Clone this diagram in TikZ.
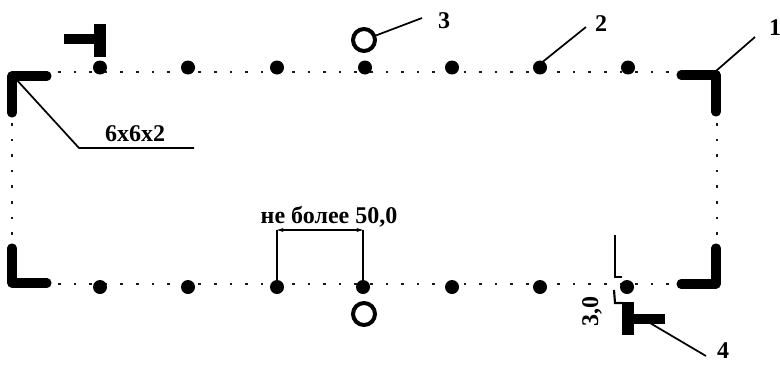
\documentclass[tikz,border=0pt]{standalone}
\usepackage{fontspec}
\setmainfont{Liberation Serif}
\usetikzlibrary{arrows.meta}
\tikzset{
  x=0.75pt,y=-0.75pt,
  bigdot/.style={circle,fill=black,inner sep=0pt,minimum size=10.5pt},
  dotline/.style={line width=2pt,dash pattern=on 2pt off 9.7pt,black!90},
  corner/.style={line width=6.8pt,line cap=round,line join=round},
  tbar/.style={line width=9pt},
  tstem/.style={line width=7.5pt},
  lead/.style={line width=1.3pt},
  ring/.style={circle,draw,line width=3pt,inner sep=0pt,minimum size=16.5pt},
  lab/.style={font=\bfseries\fontsize{18pt}{20pt}\selectfont,inner sep=0pt},
  dim/.style={line width=1.1pt}
}
\begin{document}
\begin{tikzpicture}
\useasboundingbox (0,0) rectangle (780,364);
% dotted outline
\draw[dotline] (58,72) -- (680,72);
\draw[dotline] (58,284) -- (680,284);
\draw[dotline] (12,123) -- (12,245);
\draw[dotline] (717,123) -- (717,245);
% corners
\draw[corner] (47,76) -- (12,76) -- (12,113);
\draw[corner] (681,75) -- (716,75) -- (716,112);
\draw[corner] (12,248) -- (12,283) -- (47,283);
\draw[corner] (681,284) -- (716,284) -- (716,248);
% dots
\foreach \n/\x in {a/100,b/188,c/277,d/365,e/452,f/540,g/628}
  \node[bigdot] (t\n) at (\x,67.5) {};
\foreach \n/\x in {a/100,b/188,c/277,d/363,e/452,f/540,g/627}
  \node[bigdot] (b\n) at (\x,287) {};
% T marks
\draw[tstem] (64,39) -- (100,39);
\draw[tbar] (100,24) -- (100,57);
\draw[tstem] (628,319) -- (665,319);
\draw[tbar] (628,302) -- (628,335);
% rings
\node[ring] (r3) at (364,40) {};
\node[ring] (r5) at (364,314) {};
% labels
\node[lab] (l1) at (775,28) {1};
\node[lab] (l2) at (601,24) {2};
\node[lab] (l3) at (444,21) {3};
\node[lab] (l4) at (723,351) {4};
\node[lab] (size) at (135,134) {6x6x2};
\node[lab] (gap) at (329,217) {не более 50,0};
\node[lab,rotate=90] (three) at (592,311) {3,0};
% leaders
\coordinate (c1) at (716,71);
\coordinate (e1) at (755,37);
\draw[lead] (c1) -- (e1);
\coordinate (c2) at (540,64);
\coordinate (e2) at (586,27);
\draw[lead] (c2) -- (e2);
\coordinate (e3) at (422,18);
\draw[lead] (r3) -- (e3);
\coordinate (c4) at (650,323);
\coordinate (e4) at (706,356);
\draw[lead] (c4) -- (e4);
\coordinate (c6) at (15,78);
\coordinate (k6) at (79,148);
\coordinate (e6) at (194,148);
\draw[lead] (c6) -- (k6) -- (e6);
% dimension 50
\coordinate (dl) at (277,230);
\coordinate (dr) at (363,230);
\draw[dim] (bc) -- (dl);
\draw[dim] (bd) -- (dr);
\draw[dim,{Stealth[length=5pt,width=3pt]}-{Stealth[length=5pt,width=3pt]}] (dl) -- (dr);
% dimension 3,0
\coordinate (v1) at (615,235);
\coordinate (v2) at (615,277);
\coordinate (v3) at (622,277);
\coordinate (v4) at (614,290);
\coordinate (v5) at (615,303);
\coordinate (v6) at (622,303);
\draw[dim] (v1) -- (v2) -- (v3);
\draw[dim,line width=1.6pt] (v4) -- (v5) -- (v6);
\end{tikzpicture}
\end{document}
